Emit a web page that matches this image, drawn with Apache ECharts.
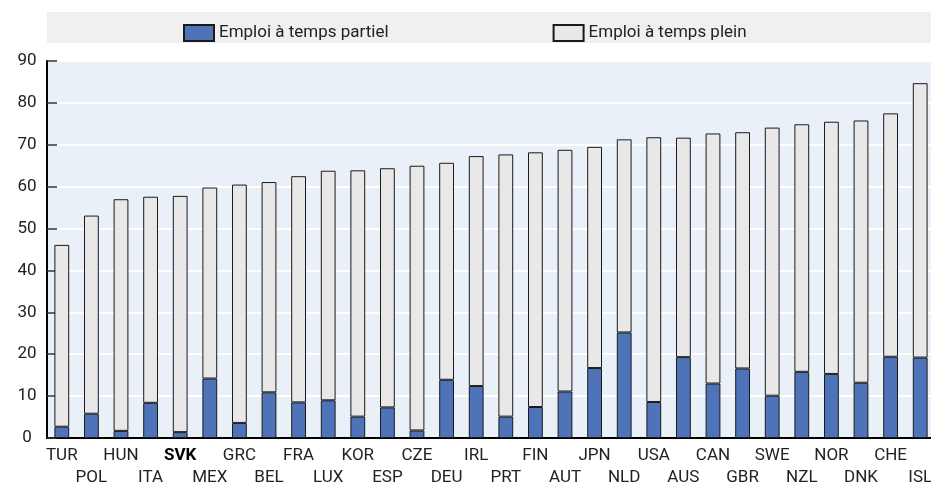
<!DOCTYPE html>
<html>
<head>
<meta charset="utf-8">
<script src="https://cdn.jsdelivr.net/npm/echarts@6/dist/echarts.min.js"></script>
<style>
html,body{margin:0;padding:0;background:#fff;}
#c{width:931px;height:485px;}
</style>
</head>
<body>
<div id="c"></div>
<script>
var categories = ['TUR','POL','HUN','ITA','SVK','MEX','GRC','BEL','FRA','LUX','KOR','ESP','CZE','DEU','IRL','PRT','FIN','AUT','JPN','NLD','USA','AUS','CAN','GBR','SWE','NZL','NOR','DNK','CHE','ISL'];
var partTime = [2.7,5.8,1.7,8.4,1.4,14.2,3.6,10.9,8.5,9.0,5.1,7.3,1.8,13.9,12.4,5.1,7.4,11.1,16.7,25.2,8.6,19.3,13.0,16.6,10.1,15.8,15.3,13.2,19.4,19.2];
var fullTime = [43.4,47.3,55.3,49.2,56.4,45.6,56.9,50.2,54.0,54.8,58.8,57.1,63.2,51.8,54.9,62.6,60.8,57.7,52.8,46.1,63.2,52.4,59.7,56.4,64.0,59.1,60.2,62.6,58.1,65.5];
var yTicks = [0,10,20,30,40,50,60,70,80,90];
var seriesNames = ['Emploi à temps partiel','Emploi à temps plein'];
var highlight = 'SVK';

var FONT = 'Roboto,"Liberation Sans",sans-serif';
var FS = 17;
var chart = echarts.init(document.getElementById('c'), null, {renderer:'canvas'});
chart.setOption({
  animation:false,
  textStyle:{fontFamily:FONT},
  graphic:[{type:'rect',z:-10,shape:{x:47,y:12,width:884,height:31},style:{fill:'#f0f0f0'}}],
  legend:{
    top:19, left:178, itemGap:164, itemWidth:30, itemHeight:16,
    textStyle:{fontFamily:FONT,fontSize:FS,color:'#222',lineHeight:16},
    data:seriesNames.map(function(n){return {name:n,icon:'rect'};})
  },
  grid:{left:47, top:61, width:888, height:377, outerBoundsMode:'none', containLabel:false,
        show:true, backgroundColor:'#eaf0f8', borderColor:'#000', borderWidth:1.5},
  xAxis:{
    type:'category', data:categories,
    axisLine:{lineStyle:{color:'#000',width:2}},
    axisTick:{show:false},
    axisLabel:{
      interval:0, fontFamily:FONT, fontSize:FS, color:'#222', margin:7, lineHeight:22,
      formatter:function(v,i){
        var t = v===highlight ? '{b|'+v+'}' : '{n|'+v+'}';
        return i%2===1 ? '\n'+t : t;
      },
      rich:{n:{fontFamily:FONT,fontSize:FS,color:'#222',lineHeight:22},b:{fontFamily:FONT,fontSize:FS,color:'#000',fontWeight:'bold',lineHeight:22}}
    }
  },
  yAxis:{
    type:'value', min:yTicks[0], max:yTicks[yTicks.length-1], interval:10,
    axisLine:{show:true,lineStyle:{color:'#000',width:2}},
    axisTick:{show:true,inside:true,length:10,lineStyle:{color:'#333',width:1.5}},
    splitLine:{lineStyle:{color:'#fff',width:2}},
    axisLabel:{fontFamily:FONT,fontSize:FS,color:'#222',margin:20,align:'center'}
  },
  series:[
    {name:seriesNames[0],type:'bar',stack:'t',data:partTime,barWidth:'50%',
     itemStyle:{color:'#4e73b9',borderColor:'#1a1a1a',borderWidth:1}},
    {name:seriesNames[1],type:'bar',stack:'t',data:fullTime,barWidth:'50%',
     itemStyle:{color:'#e8e8e8',borderColor:'#1a1a1a',borderWidth:1}}
  ]
});
</script>
</body>
</html>
